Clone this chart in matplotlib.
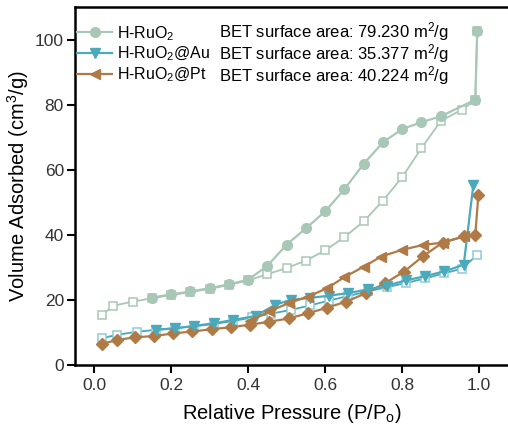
import matplotlib
matplotlib.use("Agg")
import matplotlib.pyplot as plt

plt.rcParams['font.family'] = ['Liberation Sans', 'DejaVu Sans']
plt.rcParams['mathtext.fontset'] = 'custom'
plt.rcParams['mathtext.rm'] = 'Liberation Sans'
plt.rcParams['mathtext.it'] = 'Liberation Sans'

# H-RuO2
ru_ads_x = [0.02, 0.05, 0.10, 0.15, 0.20, 0.25, 0.30, 0.35, 0.40, 0.45, 0.50, 0.55, 0.60,
            0.65, 0.70, 0.75, 0.80, 0.85, 0.90, 0.955, 0.99, 0.995]
ru_ads_y = [15.4, 18.2, 19.5, 20.5, 21.5, 22.4, 23.4, 24.6, 26.0, 27.9, 29.8, 32.1, 35.2,
            39.3, 44.1, 50.5, 57.7, 66.6, 74.9, 78.5, 81.3, 102.5]
ru_des_x = [0.995, 0.99, 0.90, 0.85, 0.80, 0.75, 0.70, 0.65, 0.60, 0.55, 0.50, 0.45, 0.40,
            0.35, 0.30, 0.25, 0.20, 0.15]
ru_des_y = [102.5, 81.5, 76.4, 74.6, 72.5, 68.4, 61.8, 54.0, 47.2, 42.0, 37.0, 30.5, 26.2,
            24.8, 23.6, 22.6, 21.7, 20.7]

# H-RuO2@Au
au_ads_x = [0.02, 0.06, 0.11, 0.16, 0.21, 0.26, 0.31, 0.36, 0.41, 0.46, 0.51, 0.56, 0.61,
            0.66, 0.71, 0.76, 0.81, 0.86, 0.91, 0.955, 0.995]
au_ads_y = [8.2, 9.3, 10.2, 10.8, 11.3, 11.9, 12.6, 13.5, 14.6, 15.8, 16.9, 18.3, 19.8,
            21.2, 22.6, 23.9, 25.2, 26.6, 28.2, 29.6, 33.8]
au_des_x = [0.985, 0.96, 0.91, 0.86, 0.81, 0.76, 0.71, 0.66, 0.61, 0.56, 0.51, 0.47, 0.42,
            0.36, 0.31, 0.26, 0.21, 0.16]
au_des_y = [55.4, 30.8, 28.8, 27.3, 26.0, 24.4, 23.2, 22.1, 21.3, 20.6, 20.0, 18.5, 15.1,
            13.8, 12.8, 12.0, 11.3, 10.8]

# H-RuO2@Pt
pt_ads_x = [0.02, 0.06, 0.105, 0.155, 0.205, 0.255, 0.305, 0.355, 0.405, 0.455, 0.505, 0.555,
            0.605, 0.655, 0.705, 0.755, 0.805, 0.855, 0.905, 0.96, 0.99, 0.998]
pt_ads_y = [6.5, 7.7, 8.5, 8.9, 9.7, 10.3, 11.0, 11.6, 12.4, 13.3, 14.3, 15.9,
            17.6, 19.5, 22.0, 25.1, 28.7, 33.5, 37.6, 39.5, 40.0, 52.3]
pt_des_x = [0.96, 0.905, 0.855, 0.80, 0.745, 0.70, 0.65, 0.605, 0.555, 0.505, 0.455, 0.405]
pt_des_y = [39.5, 37.6, 36.9, 35.4, 33.3, 30.2, 27.0, 23.6, 21.0, 19.0, 16.5, 13.5]

names = ['H-RuO$_2$', 'H-RuO$_2$@Au', 'H-RuO$_2$@Pt']
bet = ['BET surface area: 79.230 m$^2$/g',
       'BET surface area: 35.377 m$^2$/g',
       'BET surface area: 40.224 m$^2$/g']

green = '#a9c7b6'
teal = '#4aa9bb'
brown = '#b07a46'

fig = plt.figure(figsize=(5.08, 4.30), dpi=100)
ax = fig.add_axes([75 / 508, 65 / 430, 433 / 508, 358 / 430])

ax.plot(ru_ads_x, ru_ads_y, color=green, lw=1.3, marker='s', ms=6,
        mfc='white', mec=green, mew=1.1)
ax.plot(au_ads_x, au_ads_y, color=teal, lw=1.3, marker='s', ms=6,
        mfc='white', mec='#8fcbd6', mew=1.1)
ax.plot(pt_ads_x, pt_ads_y, color=brown, lw=1.6, marker='D', ms=6)
h1, = ax.plot(ru_des_x, ru_des_y, color=green, lw=1.6, marker='o', ms=7)
h2, = ax.plot(au_des_x, au_des_y, color=teal, lw=1.6, marker='v', ms=7)
h3, = ax.plot(pt_des_x, pt_des_y, color=brown, lw=1.6, marker='<', ms=7)

ax.set_xlim(-0.05, 1.075)
ax.set_ylim(0, 110)
ax.set_xticks([0.0, 0.2, 0.4, 0.6, 0.8, 1.0])
ax.set_xticklabels(['0.0', '0.2', '0.4', '0.6', '0.8', '1.0'])
ax.set_yticks([0, 20, 40, 60, 80, 100])
ax.tick_params(direction='out', length=6, width=1.5, labelsize=12.5, color='black',
               labelcolor='#333333')
ax.tick_params(axis='y', pad=2)
for s in ['left', 'bottom', 'top']:
    ax.spines[s].set_linewidth(1.8)
ax.spines['right'].set_visible(False)

ax.set_xlabel('Relative Pressure (P/P$_\\mathrm{o}$)', fontsize=14.5, labelpad=6)
ax.set_ylabel('Volume Adsorbed (cm$^3$/g)', fontsize=14.5, labelpad=3)

leg = ax.legend([h1, h2, h3], names, loc='upper left',
                bbox_to_anchor=(77 / 508, 1 - 24 / 430), bbox_transform=fig.transFigure,
                frameon=False, fontsize=11.5, handlelength=2.2, handletextpad=0.3,
                labelspacing=0.15, borderaxespad=0.0, borderpad=0.0)
for i, t in enumerate(bet):
    fig.text(219 / 508, 1 - (32 + 21.7 * i) / 430, t, fontsize=12, va='center', ha='left')

fig.savefig('out.png', dpi=100)
